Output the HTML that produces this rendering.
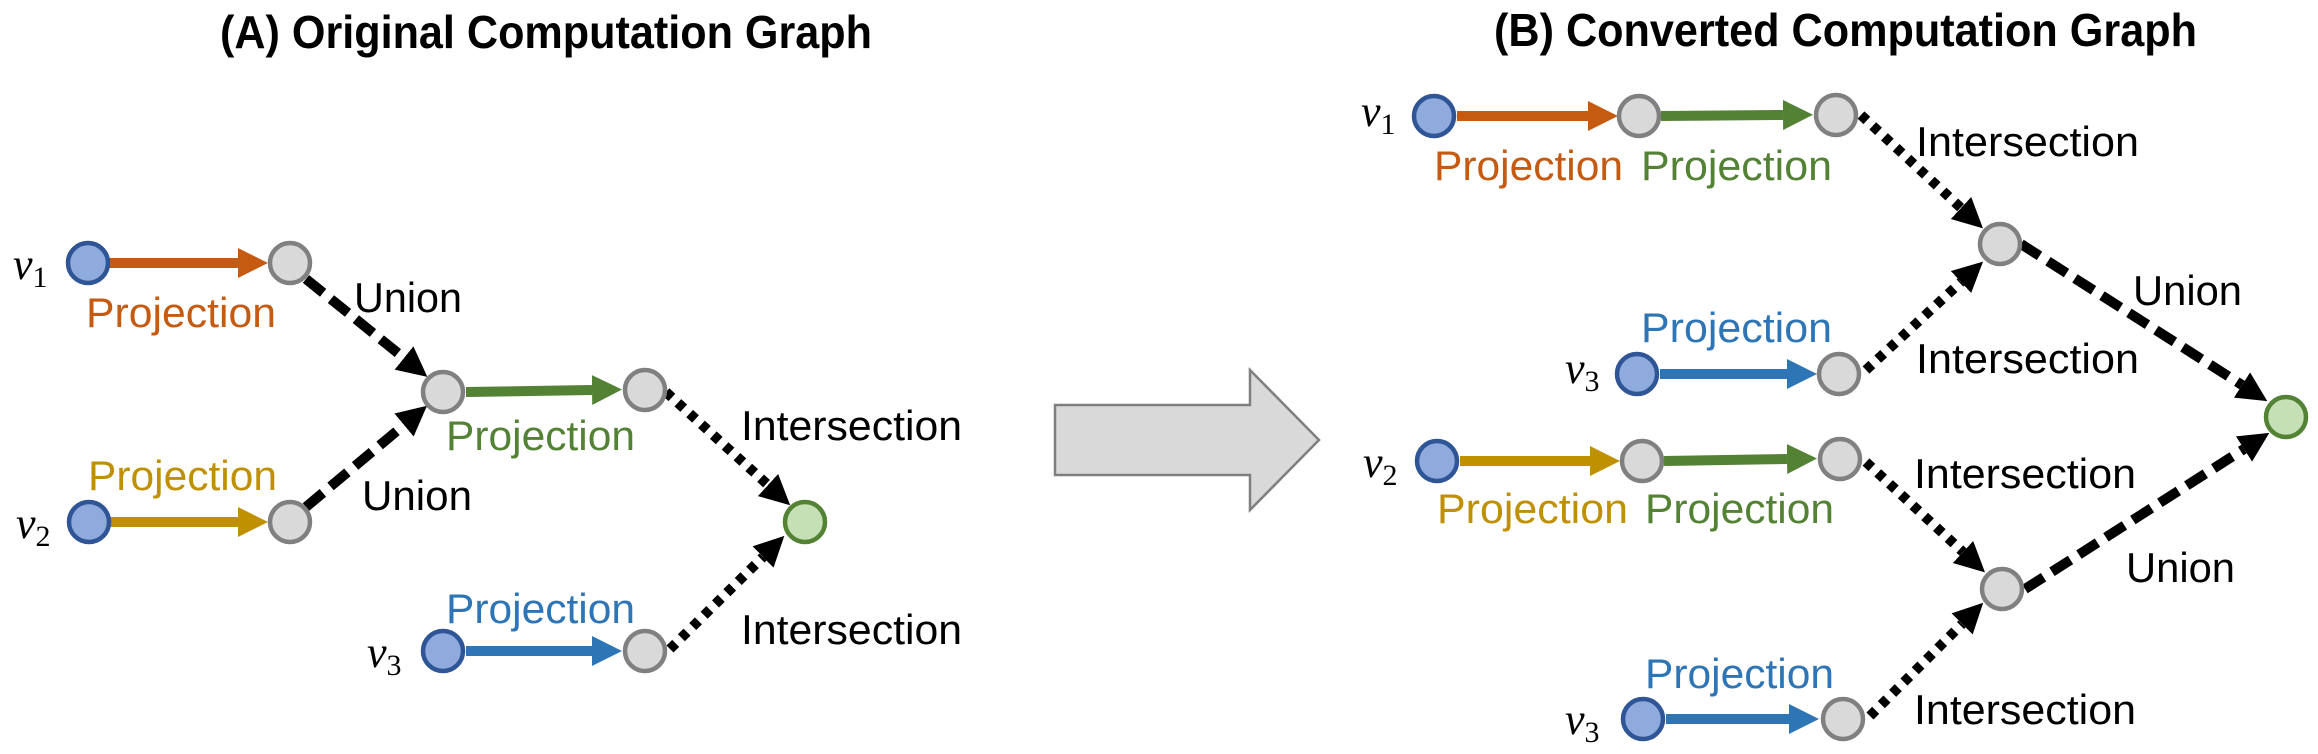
<!DOCTYPE html>
<html><head><meta charset="utf-8"><style>html,body{margin:0;padding:0;background:#fff}svg{display:block}</style></head>
<body>
<svg width="2318" height="754" viewBox="0 0 2318 754" xmlns="http://www.w3.org/2000/svg" font-family="'Liberation Sans', Arial, sans-serif">
<defs>
<marker id="mo" markerUnits="userSpaceOnUse" markerWidth="32" markerHeight="32" refX="0" refY="15" orient="auto"><path d="M0,0 L30,15 L0,30 z" fill="#C55A11"/></marker>
<marker id="mg" markerUnits="userSpaceOnUse" markerWidth="32" markerHeight="32" refX="0" refY="15" orient="auto"><path d="M0,0 L30,15 L0,30 z" fill="#548235"/></marker>
<marker id="my" markerUnits="userSpaceOnUse" markerWidth="32" markerHeight="32" refX="0" refY="15" orient="auto"><path d="M0,0 L30,15 L0,30 z" fill="#BF9000"/></marker>
<marker id="mb" markerUnits="userSpaceOnUse" markerWidth="32" markerHeight="32" refX="0" refY="15" orient="auto"><path d="M0,0 L30,15 L0,30 z" fill="#2E75B6"/></marker>
<marker id="mk" markerUnits="userSpaceOnUse" markerWidth="32" markerHeight="32" refX="0" refY="15" orient="auto"><path d="M0,0 L30,15 L0,30 z" fill="#000"/></marker>
</defs>

<!-- Titles -->
<text x="220" y="48" font-size="46" font-weight="bold" textLength="652" lengthAdjust="spacingAndGlyphs">(A) Original Computation Graph</text>
<text x="1494" y="46" font-size="46" font-weight="bold" textLength="703" lengthAdjust="spacingAndGlyphs">(B) Converted Computation Graph</text>

<!-- Big arrow -->
<path d="M1055,405 L1250,405 L1250,370 L1319,440 L1250,510 L1250,475 L1055,475 z" fill="#D9D9D9" stroke="#7F7F7F" stroke-width="2.5"/>

<g fill="none" stroke-width="10">
<!-- A -->
<line x1="108" y1="263" x2="238" y2="263" stroke="#C55A11" marker-end="url(#mo)"/>
<line x1="108" y1="522" x2="238" y2="522" stroke="#BF9000" marker-end="url(#my)"/>
<line x1="466" y1="392" x2="592" y2="390" stroke="#548235" marker-end="url(#mg)"/>
<line x1="466" y1="651" x2="592" y2="651" stroke="#2E75B6" marker-end="url(#mb)"/>
<line x1="306" y1="279" x2="404" y2="358" stroke="#000" stroke-dasharray="22,10" marker-end="url(#mk)"/>
<line x1="306" y1="507" x2="404" y2="425" stroke="#000" stroke-dasharray="22,10" marker-end="url(#mk)"/>
<line x1="666" y1="392" x2="768" y2="485" stroke="#000" stroke-dasharray="8,8" marker-end="url(#mk)"/>
<line x1="670" y1="649" x2="763" y2="557" stroke="#000" stroke-dasharray="8,8" marker-end="url(#mk)"/>
<!-- B -->
<line x1="1457" y1="116" x2="1588" y2="116" stroke="#C55A11" marker-end="url(#mo)"/>
<line x1="1661" y1="116" x2="1783" y2="115" stroke="#548235" marker-end="url(#mg)"/>
<line x1="1660" y1="374" x2="1787" y2="374" stroke="#2E75B6" marker-end="url(#mb)"/>
<line x1="1460" y1="461" x2="1590" y2="461" stroke="#BF9000" marker-end="url(#my)"/>
<line x1="1664" y1="461" x2="1787" y2="459" stroke="#548235" marker-end="url(#mg)"/>
<line x1="1666" y1="719" x2="1789" y2="719" stroke="#2E75B6" marker-end="url(#mb)"/>
<line x1="1861" y1="115" x2="1961" y2="208" stroke="#000" stroke-dasharray="8,8" marker-end="url(#mk)"/>
<line x1="1866" y1="370" x2="1961" y2="282" stroke="#000" stroke-dasharray="8,8" marker-end="url(#mk)"/>
<line x1="1866" y1="462" x2="1963" y2="552" stroke="#000" stroke-dasharray="8,8" marker-end="url(#mk)"/>
<line x1="1870" y1="716" x2="1962" y2="624" stroke="#000" stroke-dasharray="8,8" marker-end="url(#mk)"/>
<line x1="2021" y1="244" x2="2242" y2="385" stroke="#000" stroke-dasharray="22,10" marker-end="url(#mk)"/>
<line x1="2025" y1="589" x2="2244" y2="449" stroke="#000" stroke-dasharray="22,10" marker-end="url(#mk)"/>
</g>

<!-- Nodes -->
<g stroke-width="4.5">
<g fill="#8FAADC" stroke="#2F5597">
<circle cx="88" cy="263" r="20"/><circle cx="89" cy="522" r="20"/><circle cx="443" cy="651" r="20"/>
<circle cx="1434" cy="116" r="20"/><circle cx="1637" cy="374" r="20"/><circle cx="1437" cy="461" r="20"/><circle cx="1643" cy="719" r="20"/>
</g>
<g fill="#D9D9D9" stroke="#808080">
<circle cx="290" cy="263" r="20"/><circle cx="290" cy="522" r="20"/><circle cx="443" cy="392" r="20"/><circle cx="645" cy="390" r="20"/><circle cx="645" cy="651" r="20"/>
<circle cx="1639" cy="116" r="20"/><circle cx="1836" cy="115" r="20"/><circle cx="2000" cy="244" r="20"/><circle cx="1839" cy="374" r="20"/>
<circle cx="1642" cy="461" r="20"/><circle cx="1840" cy="459" r="20"/><circle cx="2002" cy="589" r="20"/><circle cx="1843" cy="719" r="20"/>
</g>
<g fill="#C5E0B4" stroke="#548235">
<circle cx="805" cy="522" r="20"/><circle cx="2286" cy="417" r="20"/>
</g>
</g>

<!-- v labels -->
<g font-family="'Liberation Serif', serif" font-size="44">
<text x="13" y="279"><tspan font-style="italic">v</tspan><tspan font-size="30" dy="8">1</tspan></text>
<text x="16" y="538"><tspan font-style="italic">v</tspan><tspan font-size="30" dy="8">2</tspan></text>
<text x="367" y="667"><tspan font-style="italic">v</tspan><tspan font-size="30" dy="8">3</tspan></text>
<text x="1361" y="126"><tspan font-style="italic">v</tspan><tspan font-size="30" dy="8">1</tspan></text>
<text x="1565" y="383"><tspan font-style="italic">v</tspan><tspan font-size="30" dy="8">3</tspan></text>
<text x="1363" y="477"><tspan font-style="italic">v</tspan><tspan font-size="30" dy="8">2</tspan></text>
<text x="1565" y="734"><tspan font-style="italic">v</tspan><tspan font-size="30" dy="8">3</tspan></text>
</g>

<!-- Labels -->
<g font-size="42" lengthAdjust="spacingAndGlyphs">
<text x="86" y="327" fill="#C55A11" textLength="190" lengthAdjust="spacingAndGlyphs">Projection</text>
<text x="88" y="490" fill="#BF9000" textLength="189" lengthAdjust="spacingAndGlyphs">Projection</text>
<text x="446" y="450" fill="#548235" textLength="189" lengthAdjust="spacingAndGlyphs">Projection</text>
<text x="446" y="623" fill="#2E75B6" textLength="189" lengthAdjust="spacingAndGlyphs">Projection</text>
<text x="354" y="312" fill="#000" textLength="108" lengthAdjust="spacingAndGlyphs">Union</text>
<text x="362" y="510" fill="#000" textLength="110" lengthAdjust="spacingAndGlyphs">Union</text>
<text x="741" y="440" fill="#000" textLength="221" lengthAdjust="spacingAndGlyphs">Intersection</text>
<text x="741" y="644" fill="#000" textLength="221" lengthAdjust="spacingAndGlyphs">Intersection</text>

<text x="1434" y="180" fill="#C55A11" textLength="189" lengthAdjust="spacingAndGlyphs">Projection</text>
<text x="1641" y="180" fill="#548235" textLength="191" lengthAdjust="spacingAndGlyphs">Projection</text>
<text x="1641" y="342" fill="#2E75B6" textLength="191" lengthAdjust="spacingAndGlyphs">Projection</text>
<text x="1437" y="523" fill="#BF9000" textLength="191" lengthAdjust="spacingAndGlyphs">Projection</text>
<text x="1645" y="523" fill="#548235" textLength="189" lengthAdjust="spacingAndGlyphs">Projection</text>
<text x="1645" y="688" fill="#2E75B6" textLength="189" lengthAdjust="spacingAndGlyphs">Projection</text>
<text x="1916" y="156" fill="#000" textLength="223" lengthAdjust="spacingAndGlyphs">Intersection</text>
<text x="1916" y="373" fill="#000" textLength="223" lengthAdjust="spacingAndGlyphs">Intersection</text>
<text x="1914" y="488" fill="#000" textLength="222" lengthAdjust="spacingAndGlyphs">Intersection</text>
<text x="1914" y="724" fill="#000" textLength="222" lengthAdjust="spacingAndGlyphs">Intersection</text>
<text x="2133" y="305" fill="#000" textLength="109" lengthAdjust="spacingAndGlyphs">Union</text>
<text x="2126" y="582" fill="#000" textLength="109" lengthAdjust="spacingAndGlyphs">Union</text>
</g>
</svg>
</body></html>
